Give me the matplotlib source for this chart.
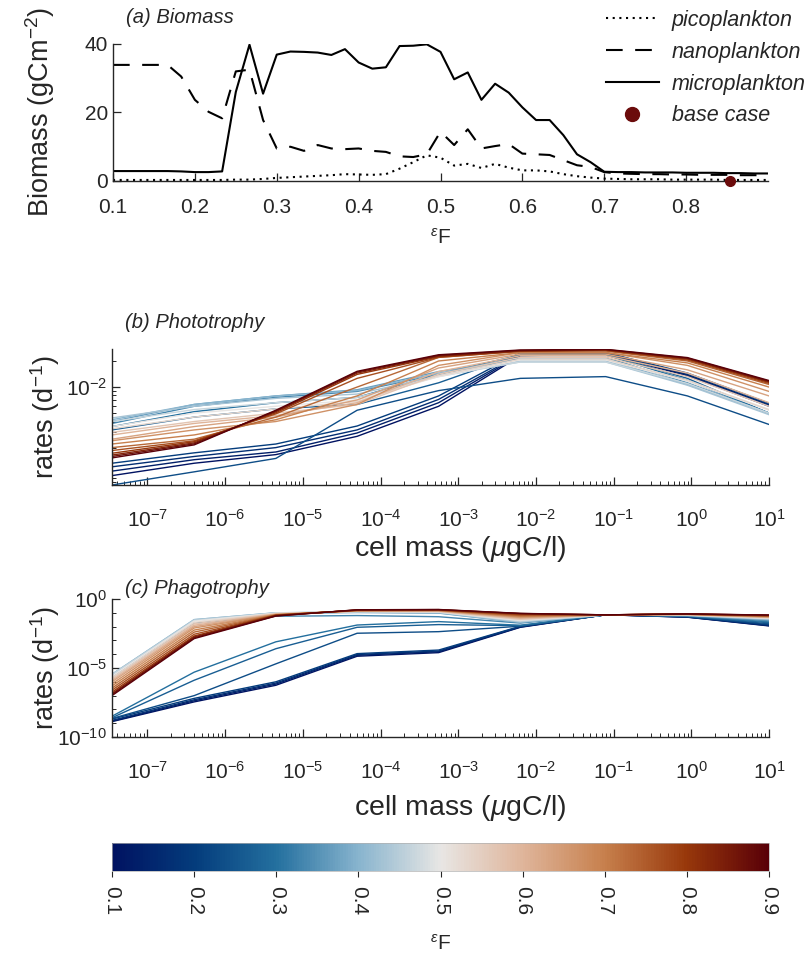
import numpy as np
import matplotlib
matplotlib.use('Agg')
import matplotlib.pyplot as plt
from matplotlib.colors import LinearSegmentedColormap, Normalize
from matplotlib.cm import ScalarMappable
from matplotlib.lines import Line2D
from matplotlib.ticker import FixedLocator, NullFormatter

plt.rcParams['font.family'] = ['Liberation Sans', 'DejaVu Sans']
plt.rcParams['mathtext.fontset'] = 'custom'
plt.rcParams['mathtext.rm'] = 'Liberation Sans'
plt.rcParams['mathtext.it'] = 'Liberation Sans:italic'
plt.rcParams['mathtext.bf'] = 'Liberation Sans:bold'

# ---------------- data: panel (a) ----------------
eps_grid = [0.1, 0.1167, 0.1333, 0.15, 0.1667, 0.1833, 0.2, 0.2167, 0.2333, 0.25,
            0.2667, 0.2833, 0.3, 0.3167, 0.3333, 0.35, 0.3667, 0.3833, 0.4, 0.4167,
            0.4333, 0.45, 0.4667, 0.4833, 0.5, 0.5167, 0.5333, 0.55, 0.5667, 0.5833,
            0.6, 0.6167, 0.6333, 0.65, 0.6667, 0.6833, 0.7, 0.7167, 0.7333, 0.75,
            0.7667, 0.7833, 0.8, 0.8167, 0.8333, 0.85, 0.8667, 0.8833, 0.9]
pico = [0.3, 0.3, 0.3, 0.3, 0.3, 0.3, 0.3, 0.3, 0.3, 0.4,
        0.4, 0.6, 0.9, 1.1, 1.3, 1.5, 1.7, 2.0, 1.9, 1.8,
        2.0, 3.6, 5.5, 7.5, 6.8, 4.5, 5.0, 3.8, 5.0, 3.9,
        3.1, 3.1, 2.8, 2.0, 1.4, 1.0, 0.7, 0.6, 0.5, 0.5,
        0.5, 0.4, 0.4, 0.4, 0.4, 0.3, 0.3, 0.3, 0.3]
nano = [33.9, 33.9, 33.9, 33.9, 33.9, 30.5, 23.7, 20.2, 18.3, 32.0,
        32.5, 17.8, 9.5, 10.0, 8.8, 10.5, 9.5, 9.3, 9.5, 8.8,
        8.5, 7.2, 7.0, 7.8, 14.4, 10.5, 15.1, 9.5, 10.2, 10.8,
        8.0, 7.8, 7.6, 6.1, 4.6, 4.1, 2.6, 2.2, 2.1, 2.0,
        2.0, 1.9, 1.9, 1.8, 1.8, 1.8, 1.7, 1.7, 1.7]
micro = [2.9, 2.9, 2.9, 2.9, 2.9, 2.8, 2.6, 2.6, 2.8, 26.0,
         39.8, 25.5, 36.9, 37.8, 37.7, 37.5, 36.8, 38.5, 34.6, 32.8,
         33.2, 39.4, 39.5, 39.9, 37.7, 29.7, 31.7, 23.7, 28.4, 25.8,
         21.5, 17.8, 17.8, 13.4, 7.8, 5.5, 2.7, 2.6, 2.6, 2.5,
         2.5, 2.5, 2.4, 2.4, 2.4, 2.3, 2.3, 2.2, 2.2]
base_eps = 0.854
base_biomass = 0.0
legend_labels = ['picoplankton', 'nanoplankton', 'microplankton', 'base case']

# ---------------- data: panels (b) and (c) ----------------
cell_mass = [3.5e-8, 4.0e-7, 4.5e-6, 5.0e-5, 5.6e-4, 6.3e-3, 7.9e-2, 0.89, 10.0]
eps_lines = [0.1, 0.1333, 0.1667, 0.2, 0.2333, 0.2667, 0.3, 0.3333, 0.3667, 0.4,
             0.4333, 0.4667, 0.5, 0.5333, 0.5667, 0.6, 0.6333, 0.6667, 0.7, 0.7333,
             0.7667, 0.8, 0.8333, 0.8667, 0.9]

photo = [
    [9.5e-4, 1.32e-3, 1.66e-3, 2.7e-3, 6.0e-3, 2.3e-2, 2.4e-2, 1.35e-2, 6.0e-3],
    [1.07e-3, 1.45e-3, 1.78e-3, 2.95e-3, 6.6e-3, 2.35e-2, 2.45e-2, 1.38e-2, 6.2e-3],
    [1.2e-3, 1.58e-3, 2.0e-3, 3.2e-3, 7.2e-3, 2.4e-2, 2.5e-2, 1.4e-2, 6.3e-3],
    [1.32e-3, 1.74e-3, 2.2e-3, 3.55e-3, 7.9e-3, 2.5e-2, 2.5e-2, 1.45e-2, 6.5e-3],
    [7.4e-4, 1.05e-3, 1.5e-3, 5.4e-3, 9.1e-3, 1.26e-2, 1.32e-2, 7.9e-3, 3.7e-3],
    [3.2e-3, 4.5e-3, 5.6e-3, 6.3e-3, 1.12e-2, 2.4e-2, 2.4e-2, 1.26e-2, 5.0e-3],
    [3.5e-3, 5.2e-3, 6.6e-3, 7.6e-3, 1.41e-2, 2.35e-2, 2.35e-2, 1.2e-2, 5.0e-3],
    [3.8e-3, 6.0e-3, 7.6e-3, 8.9e-3, 1.41e-2, 2.2e-2, 2.2e-2, 1.12e-2, 5.0e-3],
    [4.0e-3, 6.3e-3, 7.9e-3, 9.3e-3, 1.51e-2, 2.1e-2, 2.1e-2, 1.07e-2, 5.0e-3],
    [4.2e-3, 6.3e-3, 7.9e-3, 9.1e-3, 1.45e-2, 2.0e-2, 2.0e-2, 1.07e-2, 5.0e-3],
    [4.4e-3, 6.0e-3, 7.4e-3, 8.3e-3, 1.35e-2, 1.95e-2, 1.95e-2, 1.05e-2, 4.8e-3],
    [4.0e-3, 5.5e-3, 6.6e-3, 7.6e-3, 1.32e-2, 1.95e-2, 1.95e-2, 1.1e-2, 5.0e-3],
    [3.5e-3, 5.0e-3, 6.0e-3, 7.1e-3, 1.32e-2, 2.05e-2, 2.05e-2, 1.17e-2, 5.4e-3],
    [3.3e-3, 4.5e-3, 5.6e-3, 6.8e-3, 1.35e-2, 2.1e-2, 2.1e-2, 1.2e-2, 5.5e-3],
    [3.0e-3, 4.0e-3, 5.0e-3, 6.3e-3, 1.41e-2, 2.2e-2, 2.2e-2, 1.32e-2, 6.0e-3],
    [2.8e-3, 3.8e-3, 4.7e-3, 6.6e-3, 1.51e-2, 2.3e-2, 2.3e-2, 1.45e-2, 6.6e-3],
    [2.5e-3, 3.5e-3, 4.5e-3, 7.1e-3, 1.66e-2, 2.4e-2, 2.4e-2, 1.58e-2, 7.9e-3],
    [2.4e-3, 3.2e-3, 4.0e-3, 6.3e-3, 1.78e-2, 2.5e-2, 2.5e-2, 1.78e-2, 8.9e-3],
    [2.2e-3, 2.8e-3, 4.2e-3, 7.9e-3, 2.0e-2, 2.5e-2, 2.5e-2, 1.9e-2, 1.0e-2],
    [2.0e-3, 2.5e-3, 4.5e-3, 1.0e-2, 2.2e-2, 2.6e-2, 2.6e-2, 2.0e-2, 1.07e-2],
    [1.85e-3, 2.4e-3, 4.9e-3, 1.26e-2, 2.2e-2, 2.58e-2, 2.64e-2, 2.05e-2, 1.1e-2],
    [1.72e-3, 2.34e-3, 5.05e-3, 1.4e-2, 2.24e-2, 2.6e-2, 2.67e-2, 2.1e-2, 1.13e-2],
    [1.64e-3, 2.27e-3, 5.2e-3, 1.45e-2, 2.28e-2, 2.62e-2, 2.69e-2, 2.13e-2, 1.15e-2],
    [1.58e-3, 2.21e-3, 5.3e-3, 1.49e-2, 2.32e-2, 2.65e-2, 2.71e-2, 2.16e-2, 1.17e-2],
    [1.52e-3, 2.15e-3, 5.4e-3, 1.52e-2, 2.36e-2, 2.68e-2, 2.73e-2, 2.19e-2, 1.19e-2],
]

phago = [
    [1.3e-9, 3.5e-8, 5.6e-7, 7.1e-5, 1.3e-4, 8.9e-3, 7.2e-2, 4.8e-2, 1.12e-2],
    [1.4e-9, 4.2e-8, 6.8e-7, 8.3e-5, 1.5e-4, 9.3e-3, 7.2e-2, 4.9e-2, 1.17e-2],
    [1.6e-9, 5.0e-8, 8.1e-7, 9.5e-5, 1.7e-4, 1.0e-2, 7.2e-2, 5.0e-2, 1.26e-2],
    [2.0e-9, 6.3e-8, 1.0e-6, 1.1e-4, 2.0e-4, 1.05e-2, 7.2e-2, 5.2e-2, 1.38e-2],
    [2.2e-9, 1.0e-7, 2.0e-5, 3.3e-3, 4.3e-3, 1.07e-2, 7.2e-2, 5.4e-2, 1.6e-2],
    [2.5e-9, 1.3e-6, 2.5e-4, 8.9e-3, 1.4e-2, 1.17e-2, 7.1e-2, 5.6e-2, 1.9e-2],
    [3.2e-9, 5.0e-6, 7.9e-4, 1.3e-2, 2.3e-2, 1.26e-2, 7.1e-2, 5.9e-2, 2.2e-2],
    [2.2e-6, 1.8e-2, 5.6e-2, 6.3e-2, 5.2e-2, 1.8e-2, 7.1e-2, 6.0e-2, 2.6e-2],
    [3.2e-6, 2.8e-2, 8.9e-2, 1.05e-1, 9.5e-2, 2.0e-2, 7.1e-2, 6.3e-2, 3.0e-2],
    [3.5e-6, 3.2e-2, 1.0e-1, 1.12e-1, 1.0e-1, 2.1e-2, 7.1e-2, 6.5e-2, 3.3e-2],
    [3.5e-6, 3.2e-2, 1.0e-1, 1.17e-1, 1.05e-1, 2.2e-2, 7.1e-2, 6.6e-2, 3.5e-2],
    [3.2e-6, 2.8e-2, 9.5e-2, 1.2e-1, 1.1e-1, 2.5e-2, 7.1e-2, 6.8e-2, 3.8e-2],
    [2.5e-6, 2.5e-2, 9.3e-2, 1.26e-1, 1.15e-1, 2.8e-2, 7.1e-2, 6.9e-2, 4.0e-2],
    [2.0e-6, 2.0e-2, 8.9e-2, 1.26e-1, 1.2e-1, 3.2e-2, 7.1e-2, 7.1e-2, 4.2e-2],
    [1.6e-6, 1.6e-2, 8.5e-2, 1.32e-1, 1.26e-1, 3.5e-2, 7.1e-2, 7.2e-2, 4.5e-2],
    [1.26e-6, 1.26e-2, 7.9e-2, 1.35e-1, 1.32e-1, 4.0e-2, 7.1e-2, 7.4e-2, 4.8e-2],
    [1.0e-6, 1.0e-2, 7.6e-2, 1.38e-1, 1.38e-1, 4.5e-2, 7.1e-2, 7.6e-2, 5.0e-2],
    [7.1e-7, 7.9e-3, 7.4e-2, 1.41e-1, 1.45e-1, 5.0e-2, 7.1e-2, 7.8e-2, 5.2e-2],
    [5.0e-7, 5.6e-3, 7.1e-2, 1.45e-1, 1.48e-1, 5.6e-2, 7.1e-2, 7.9e-2, 5.5e-2],
    [3.5e-7, 4.0e-3, 6.9e-2, 1.48e-1, 1.51e-1, 6.3e-2, 7.1e-2, 7.9e-2, 5.8e-2],
    [2.5e-7, 2.8e-3, 6.8e-2, 1.51e-1, 1.58e-1, 7.1e-2, 7.1e-2, 8.1e-2, 6.0e-2],
    [1.8e-7, 2.1e-3, 6.6e-2, 1.55e-1, 1.62e-1, 7.9e-2, 7.1e-2, 8.1e-2, 6.3e-2],
    [1.4e-7, 1.8e-3, 6.3e-2, 1.58e-1, 1.66e-1, 8.7e-2, 7.1e-2, 8.3e-2, 6.6e-2],
    [1.2e-7, 1.55e-3, 6.0e-2, 1.62e-1, 1.7e-1, 8.9e-2, 7.1e-2, 8.3e-2, 6.8e-2],
    [1.0e-7, 1.35e-3, 5.8e-2, 1.66e-1, 1.74e-1, 9.1e-2, 7.1e-2, 8.3e-2, 6.9e-2],
]

colorbar_ticks = [0.1, 0.2, 0.3, 0.4, 0.5, 0.6, 0.7, 0.8, 0.9]

# ---------------- style ----------------
cmap = LinearSegmentedColormap.from_list('vik_like', [
    (0.0, '#001261'), (0.125, '#043c7c'), (0.25, '#24709f'), (0.375, '#88b4ce'),
    (0.5, '#e8e6e4'), (0.625, '#dfb59b'), (0.75, '#c7804d'), (0.875, '#98380b'),
    (1.0, '#590008')])
norm = Normalize(vmin=0.1, vmax=0.9)
axcol = '#262626'
tick_fs = 15
label_fs = 19.5
title_fs = 14.5
eps_label = r'${}^{\epsilon}\mathrm{F}$'

W, H = 810, 963
fig = plt.figure(figsize=(W / 100, H / 100), dpi=100)


def frac(l, r, t, b):
    return [l / W, 1 - b / H, (r - l) / W, (b - t) / H]


def style_axes(ax):
    for s in ['top', 'right']:
        ax.spines[s].set_visible(False)
    for s in ['left', 'bottom']:
        ax.spines[s].set_color(axcol)
        ax.spines[s].set_linewidth(1.0)
    ax.tick_params(which='both', direction='in', colors=axcol, labelsize=tick_fs,
                   labelcolor=axcol)
    ax.tick_params(which='major', length=6, width=0.9)
    ax.tick_params(which='minor', length=3, width=0.7)


def place_labels(ax, xl_x, xl_y, yl_x):
    ax.xaxis.set_label_coords(xl_x, xl_y)
    ax.xaxis.label.set_va('center')
    ax.yaxis.set_label_coords(yl_x, 0.5)
    ax.yaxis.label.set_va('center')


# ---------------- panel (a) ----------------
axa = fig.add_axes(frac(113, 768, 44, 181))
axa.plot(eps_grid, pico, color='k', lw=1.5, linestyle=(0, (1, 2.2)))
axa.plot(eps_grid, nano, color='k', lw=1.5, linestyle=(0, (8, 6)))
axa.plot(eps_grid, micro, color='k', lw=1.5)
axa.plot([base_eps], [base_biomass], 'o', color='#6b0b0b', ms=7, clip_on=False, zorder=5)
axa.set_xlim(0.1, 0.9)
axa.set_ylim(0, 40)
axa.set_xticks([0.1, 0.2, 0.3, 0.4, 0.5, 0.6, 0.7, 0.8])
axa.set_xticklabels(['0.1', '0.2', '0.3', '0.4', '0.5', '0.6', '0.7', '0.8'])
axa.set_yticks([0, 20, 40])
style_axes(axa)
axa.tick_params(axis='x', pad=12)
axa.set_ylabel('Biomass (gCm$^{-2}$)', fontsize=label_fs, color=axcol)
axa.set_xlabel(eps_label, fontsize=15, color=axcol)
place_labels(axa, 0.5, 1 - (238 - 44) / 137, (40 - 113) / 655)
axa.text(0.02, 1 - (18 - 44) / 137, '(a) Biomass', transform=axa.transAxes,
         fontsize=title_fs, style='italic', color=axcol, va='center', ha='left')

handles = [Line2D([], [], color='k', lw=1.5, linestyle=(0, (1, 2.2))),
           Line2D([], [], color='k', lw=1.5, linestyle=(0, (8, 6))),
           Line2D([], [], color='k', lw=1.5),
           Line2D([], [], color='#6b0b0b', marker='o', ms=10, linestyle='none')]
leg = fig.legend(handles, legend_labels, loc='upper left',
                 bbox_to_anchor=(606 / W, 1 - 10 / H), frameon=False,
                 prop={'size': 15.5, 'style': 'italic'}, handlelength=2.45,
                 handletextpad=0.6, labelspacing=0.5, borderpad=0, borderaxespad=0)
for t in leg.get_texts():
    t.set_color(axcol)


# ---------------- panels (b) and (c) ----------------
def rate_panel(ax, data, ylim, title, yticks, yminor, top, bottom, title_y, xl_y):
    for e, row in zip(eps_lines, data):
        ax.plot(cell_mass, row, color=cmap(norm(e)), lw=1.0)
    ax.set_xscale('log')
    ax.set_yscale('log')
    ax.set_xlim(cell_mass[0], cell_mass[-1])
    ax.set_ylim(*ylim)
    ax.xaxis.set_major_locator(FixedLocator([1e-7, 1e-6, 1e-5, 1e-4, 1e-3, 1e-2, 1e-1, 1e0, 1e1]))
    ax.xaxis.set_minor_locator(FixedLocator(
        [m * 10.0 ** d for d in range(-8, 1) for m in range(2, 10)]))
    ax.xaxis.set_minor_formatter(NullFormatter())
    ax.yaxis.set_major_locator(FixedLocator(yticks))
    ax.yaxis.set_minor_locator(FixedLocator(yminor))
    ax.yaxis.set_minor_formatter(NullFormatter())
    style_axes(ax)
    ax.tick_params(axis='x', pad=17)
    ax.set_xlabel(r'cell mass ($\mu$gC/l)', fontsize=20.5, color=axcol)
    ax.set_ylabel('rates (d$^{-1}$)', fontsize=label_fs, color=axcol)
    h = bottom - top
    place_labels(ax, 0.53, 1 - (xl_y - top) / h, (45 - 112) / 657)
    ax.text(0.02, 1 - (title_y - top) / h, title, transform=ax.transAxes,
            fontsize=title_fs, style='italic', color=axcol, va='center', ha='left')


axb = fig.add_axes(frac(112, 769, 349, 485))
rate_panel(axb, photo, (7.4e-4, 2.75e-2), '(b) Phototrophy', [1e-2],
           [m * 10.0 ** d for d in (-4, -3, -2) for m in range(2, 10)],
           349, 485, 323, 549)

axc = fig.add_axes(frac(112, 769, 599, 737))
rate_panel(axc, phago, (1e-10, 1.0), '(c) Phagotrophy', [1e-10, 1e-5, 1e0],
           [10.0 ** d for d in range(-10, 1)], 599, 737, 589, 808)

# ---------------- colorbar ----------------
cax = fig.add_axes(frac(112, 769, 843, 871))
sm = ScalarMappable(norm=norm, cmap=cmap)
cb = fig.colorbar(sm, cax=cax, orientation='horizontal', ticks=colorbar_ticks)
cb.outline.set_edgecolor('#b0b0b0')
cb.outline.set_linewidth(0.5)
cax.tick_params(direction='out', length=4, width=0.8, colors=axcol,
                labelsize=tick_fs, pad=7)
cax.set_xticklabels([str(t) for t in colorbar_ticks], rotation=-90)
cb.set_label(eps_label, fontsize=15, color=axcol)
cax.xaxis.set_label_coords(0.5, 1 - (944 - 843) / 28)
cax.xaxis.label.set_va('center')

fig.savefig('out.png', dpi=100)
